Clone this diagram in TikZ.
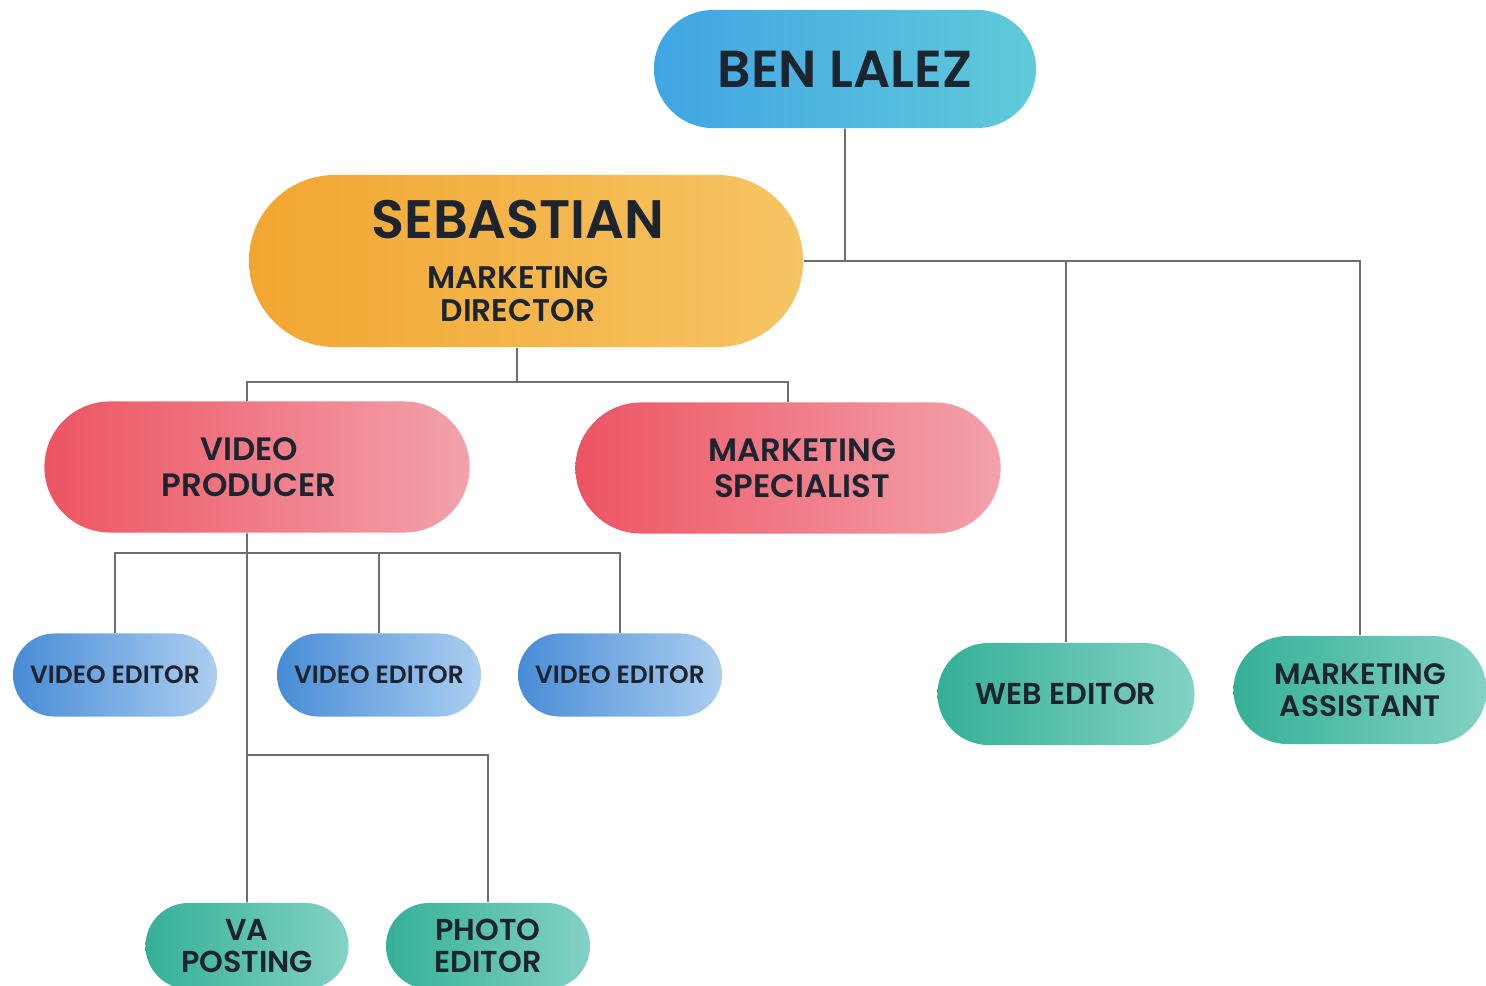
\documentclass[tikz,border=0pt]{standalone}
\usepackage{fontspec}
\setmainfont{Poppins}[BoldFont={Poppins SemiBold}]
\usetikzlibrary{shapes.misc,calc}
\definecolor{ink}{RGB}{28,36,48}
\definecolor{linegray}{RGB}{110,110,110}
\definecolor{benL}{RGB}{64,165,228}
\definecolor{benR}{RGB}{96,202,218}
\definecolor{sebL}{RGB}{242,166,48}
\definecolor{sebR}{RGB}{246,196,100}
\definecolor{redL}{RGB}{237,84,98}
\definecolor{redR}{RGB}{242,162,172}
\definecolor{veL}{RGB}{72,140,214}
\definecolor{veR}{RGB}{172,206,240}
\definecolor{grnL}{RGB}{52,176,150}
\definecolor{grnR}{RGB}{132,210,196}
\newcommand{\lft}{\hspace*{-4.6pt}}
\newcommand{\rgt}{\hspace*{8pt}}

\begin{document}
\begin{tikzpicture}[x=0.01cm,y=-0.01cm,
    pill/.style={rounded rectangle,text=ink,align=center,inner sep=2pt},
    bluepill/.style={pill,left color=benL,right color=benR},
    orangepill/.style={pill,left color=sebL,right color=sebR},
    redpill/.style={pill,left color=redL,right color=redR,minimum width=4.39cm,minimum height=1.31cm,
        font=\bfseries\fontsize{9.2}{10.4}\selectfont},
    editpill/.style={pill,left color=veL,right color=veR,minimum width=2.18cm,minimum height=0.83cm,
        font=\bfseries\fontsize{7.1}{8}\selectfont},
    greenpill/.style={pill,left color=grnL,right color=grnR,font=\bfseries\fontsize{8.6}{9.2}\selectfont},
    link/.style={draw=linegray,line width=0.45pt}
]
\useasboundingbox (0,0) rectangle (1486,985);
% top level
\node[bluepill,minimum width=3.96cm,minimum height=1.18cm,font=\bfseries\fontsize{14.8}{16}\selectfont] (ben) at (845,69) {BEN LALEZ};
\node[orangepill,minimum width=5.68cm,minimum height=1.72cm,font=\bfseries\fontsize{8.9}{9.2}\selectfont] (seb) at (526,261)
    {\lft{\fontsize{15.4}{18}\selectfont SEBASTIAN}\\[5pt]\lft MARKETING\\\lft DIRECTOR};
% second level
\node[redpill] (vp) at (257,467) {\lft VIDEO\\\lft PRODUCER};
\node[redpill] (ms) at (788,468) {\rgt MARKETING\\\rgt SPECIALIST};
\node[greenpill,minimum width=2.71cm,minimum height=1.02cm] (web) at (1066,694) {WEB EDITOR};
\node[greenpill,minimum width=2.67cm,minimum height=1.08cm,font=\bfseries\fontsize{8.4}{9}\selectfont] (asst) at (1360,690) {MARKETING\\ASSISTANT};
% video team
\node[editpill] (ve1) at (115,675) {VIDEO EDITOR};
\node[editpill] (ve2) at (379,675) {VIDEO EDITOR};
\node[editpill] (ve3) at (620,675) {VIDEO EDITOR};
\node[greenpill,minimum width=2.17cm,minimum height=0.86cm] (va) at (247,946) {VA\\POSTING};
\node[greenpill,minimum width=2.18cm,minimum height=0.86cm] (photo) at (488,946) {PHOTO\\EDITOR};

% connectors
\coordinate (bj) at (ben |- seb.east);
\draw[link] (ben) -- (bj);
\draw[link] (seb.east) -| (asst);
\draw[link] (bj) -| (web);
\coordinate (sfoot) at ($(seb.south)+(-9,0)$);
\coordinate (sj) at ($(sfoot)+(0,34)$);
\draw[link] (sfoot) -- (sj);
\draw[link] (sj) -| (va |- vp.north);
\draw[link] (sj) -| (ms);
\coordinate (vfoot) at (va |- vp.south);
\coordinate (vj) at ($(vfoot)+(0,20)$);
\coordinate (pj) at ($(vfoot)+(0,222)$);
\draw[link] (vfoot) -- (va);
\draw[link] (vj) -| (ve1);
\draw[link] (vj) -| (ve2);
\draw[link] (vj) -| (ve3);
\draw[link] (pj) -| (photo);
\end{tikzpicture}
\end{document}
